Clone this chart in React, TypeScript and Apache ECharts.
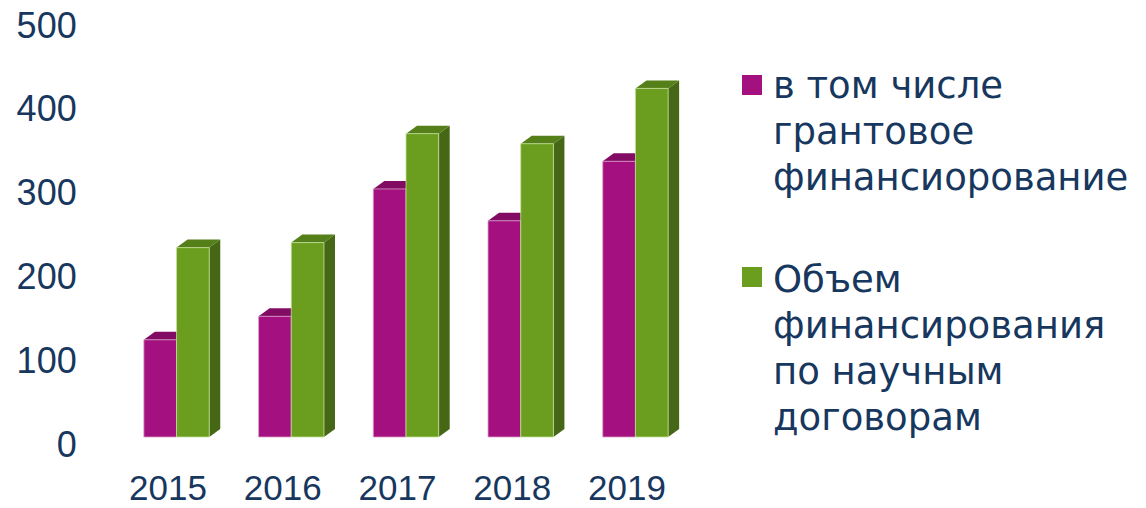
import React, { useEffect, useRef } from "react";
import * as echarts from "echarts";

const years = ["2015", "2016", "2017", "2018", "2019"];
const grantValues = [116, 144, 296, 258, 329];
const totalValues = [226, 232, 362, 350, 416];
const yTicks = [0, 100, 200, 300, 400, 500];
const legendGrant = "в том числе\nгрантовое\nфинансиорование";
const legendTotal = "Объем\nфинансирования\nпо научным\nдоговорам";

const TEXT = "#17375E";
const MAG = { front: "#A4107F", top: "#820C64", side: "#6E0A55", edge: "#D9A0C8" };
const GRN = { front: "#6B9E1F", top: "#557F18", side: "#466816", edge: "#C5DE9C" };

const BW = 32.7;
const SHIFT_X = 8.5;
const SHIFT_Y = -7;
const DX = 11;
const DY = -8;

function makeRender(side: number, col: any) {
  return (params: any, api: any) => {
    const i = api.value(0);
    const v = api.value(1);
    const p0 = api.coord([i, 0]);
    const p1 = api.coord([i, v]);
    const cx = p0[0] + SHIFT_X;
    const baseY = p0[1] + SHIFT_Y;
    const topY = p1[1] + SHIFT_Y;
    const x0 = side === 0 ? cx - BW : cx;
    const x1 = x0 + BW;
    return {
      type: "group",
      children: [
        {
          type: "polygon",
          shape: { points: [[x1, topY], [x1 + DX, topY + DY], [x1 + DX, baseY + DY], [x1, baseY]] },
          style: { fill: col.side },
        },
        {
          type: "polygon",
          shape: { points: [[x0, topY], [x0 + DX, topY + DY], [x1 + DX, topY + DY], [x1, topY]] },
          style: { fill: col.top },
        },
        {
          type: "rect",
          shape: { x: x0, y: topY, width: BW, height: baseY - topY },
          style: { fill: col.front, stroke: col.edge, lineWidth: 0.8 },
        },
      ],
    };
  };
}

export default function App() {
  const ref = useRef<HTMLDivElement>(null);
  useEffect(() => {
    if (!ref.current) return;
    const chart = echarts.init(ref.current, undefined, { renderer: "svg" });
    chart.setOption({
      animation: false,
      backgroundColor: "#ffffff",
      grid: { left: 110.7, top: 25, width: 573.6, height: 419 },
      xAxis: {
        type: "category",
        data: years,
        axisLine: { show: false },
        axisTick: { show: false },
        axisLabel: {
          color: TEXT,
          fontFamily: "Liberation Sans",
          fontSize: 35,
          lineHeight: 35,
          margin: 26,
        },
      },
      yAxis: {
        type: "value",
        min: 0,
        max: 500,
        interval: 100,
        axisLine: { show: false },
        axisTick: { show: false },
        splitLine: { show: false },
        axisLabel: {
          color: TEXT,
          fontFamily: "Liberation Sans",
          fontSize: 36,
          margin: 34,
          formatter: (val: number) => (yTicks.includes(val) ? String(val) : ""),
        },
      },
      series: [
        {
          name: "grant",
          type: "custom",
          renderItem: makeRender(0, MAG),
          encode: { x: 0, y: 1 },
          data: grantValues.map((v, i) => [i, v]),
          z: 2,
        },
        {
          name: "total",
          type: "custom",
          renderItem: makeRender(1, GRN),
          encode: { x: 0, y: 1 },
          data: totalValues.map((v, i) => [i, v]),
          z: 3,
        },
      ],
      graphic: [
        { type: "rect", left: 742, top: 75, shape: { width: 20, height: 20 }, style: { fill: MAG.front } },
        {
          type: "text",
          x: 773,
          y: 62,
          style: {
            text: legendGrant,
            fill: TEXT,
            font: "37px 'DejaVu Sans'",
            lineHeight: 46,
            verticalAlign: "top",
          },
        },
        { type: "rect", left: 742, top: 267, shape: { width: 20, height: 20 }, style: { fill: GRN.front } },
        {
          type: "text",
          x: 773,
          y: 256,
          style: {
            text: legendTotal,
            fill: TEXT,
            font: "37px 'DejaVu Sans'",
            lineHeight: 46,
            verticalAlign: "top",
          },
        },
      ],
    });
    return () => chart.dispose();
  }, []);
  return (
    <div
      ref={ref}
      style={{ position: "absolute", left: 0, top: 0, width: 1146, height: 508 }}
    />
  );
}
